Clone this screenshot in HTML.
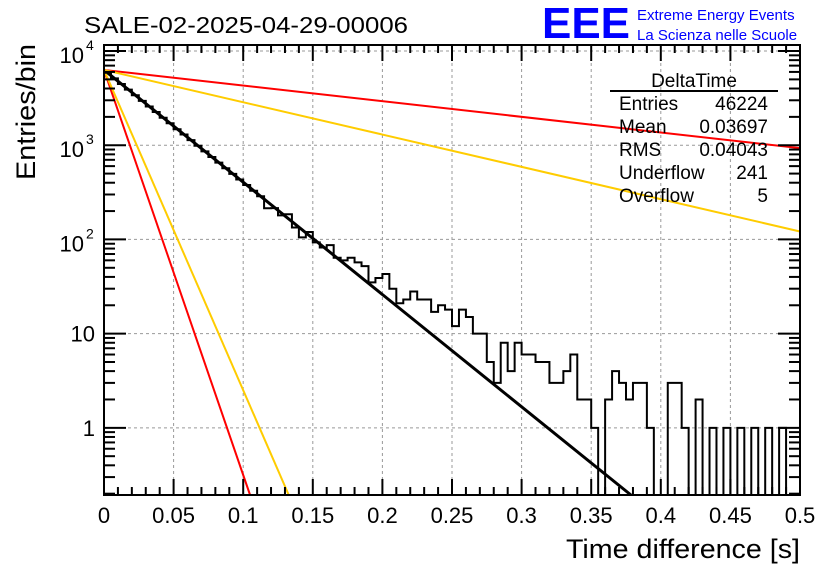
<!DOCTYPE html>
<html><head><meta charset="utf-8">
<style>
html,body{margin:0;padding:0;background:#fff;}
svg{display:block;font-family:"Liberation Sans",sans-serif;}
</style></head>
<body>
<svg id="chart" width="836" height="572" viewBox="0 0 836 572" xmlns="http://www.w3.org/2000/svg">
<rect width="836" height="572" fill="#fff"/>
<text x="84" y="33" font-size="23" fill="#000" textLength="324" lengthAdjust="spacingAndGlyphs">SALE-02-2025-04-29-00006</text>
<g>
<text x="542" y="38" font-size="44" fill="#0000ff" font-weight="bold" textLength="88" lengthAdjust="spacingAndGlyphs">EEE</text>
<text x="637" y="20" font-size="15" fill="#0000ff">Extreme Energy Events</text>
<text x="637" y="40" font-size="15" fill="#0000ff">La Scienza nelle Scuole</text>
</g>
<g id="grid"></g>
<g id="curves"></g>
<g id="hist"></g>
<g id="axes"></g>
<g font-size="19" fill="#000">
<text x="694" y="87" text-anchor="middle">DeltaTime</text>
<line x1="610" y1="91" x2="778" y2="91" stroke="#000" stroke-width="2"/>
<text x="619" y="110">Entries</text><text x="768" y="110" text-anchor="end">46224</text>
<text x="619" y="133">Mean</text><text x="768" y="133" text-anchor="end">0.03697</text>
<text x="619" y="156">RMS</text><text x="768" y="156" text-anchor="end">0.04043</text>
<text x="619" y="179">Underflow</text><text x="768" y="179" text-anchor="end">241</text>
<text x="619" y="202">Overflow</text><text x="768" y="202" text-anchor="end">5</text>
</g>
<text transform="translate(35,180) rotate(-90)" font-size="27" text-anchor="start" textLength="136" lengthAdjust="spacingAndGlyphs">Entries/bin</text>
<text x="800" y="558" font-size="27" text-anchor="end" textLength="234" lengthAdjust="spacingAndGlyphs">Time difference [s]</text>
</svg>
<script>
const binWidth = 0.005;
const counts = [5880,5125,4470,3895,3395,2960,2580,2250,1960,1710,1480,1300,1133,987,861,750,654,570,497,433,378,329,287,214,215,180,185,134,105,120,93,82,87,64,60,64,57,52,35,39,43,30,21,23,28,23,23,17,20,18,12,18,15,10,10,5,3,8,4,8,6,6,5,5,3,3,4,6,2,2,1,0,2,4,3,2,3,3,1,0,0,3,3,1,0,2,0,1,0,1,0,1,0,1,0,1,0,1,0,0];
const curveAmp = [6300,6300,6300,6300,6300];
const curveSlope = [-11.92,-1.66,-3.43,-43.0,-34.0]; // log10 units per second
const curveColor = ["#000000","#ff0000","#ffcc00","#ff0000","#ffcc00"];
const curveName = ["fit-curve","red-upper-curve","orange-upper-curve","red-lower-curve","orange-lower-curve"];
const xTicks = [0,0.05,0.1,0.15,0.2,0.25,0.3,0.35,0.4,0.45,0.5];
const xTickLabels = ["0","0.05","0.1","0.15","0.2","0.25","0.3","0.35","0.4","0.45","0.5"];
const yDecades = [0,1,2,3,4];
const yTickLabels = ["1","10","","",""];

const L=104,R=800,T=45,B=495;
const xMin=0,xMax=0.5,logMin=-0.713,logMax=4.064;
function X(v){return L+(v-xMin)/(xMax-xMin)*(R-L);}
function Yl(lg){return B-(lg-logMin)/(logMax-logMin)*(B-T);}
function Y(v){return v<=0?B:Math.max(T,Math.min(B,Yl(Math.log10(v))));}
const NS="http://www.w3.org/2000/svg";
function mk(tag,attrs,parent){const e=document.createElementNS(NS,tag);for(const k in attrs)e.setAttribute(k,attrs[k]);parent.appendChild(e);return e;}

const grid=document.getElementById('grid');
xTicks.forEach((t,i)=>{if(i>0&&i<xTicks.length-1){
 const g=mk('line',{x1:X(t),x2:X(t),y1:T,y2:B,stroke:'#999','stroke-dasharray':'3,3','stroke-width':1},grid);
 
 
}});
yDecades.forEach(d=>{const y=Yl(d);
 const g=mk('line',{x1:L,x2:R,y1:y,y2:y,stroke:'#999','stroke-dasharray':'3,3','stroke-width':1},grid);
 
 
});

const cg=document.getElementById('curves');
curveAmp.forEach((a,i)=>{
 const lg0=Math.log10(a);
 let x1=xMax; const lgEnd=lg0+curveSlope[i]*xMax;
 if(lgEnd<logMin){x1=(logMin-lg0)/curveSlope[i];}
 const p=mk('line',{x1:X(0),y1:Yl(lg0),x2:X(x1),y2:Yl(lg0+curveSlope[i]*x1),stroke:curveColor[i],'stroke-width':i==0?3:2},cg);
 
 
});

const hg=document.getElementById('hist');
let d='M'+X(0)+','+B;
counts.forEach((c,i)=>{const y=Y(c);d+=' L'+X(i*binWidth)+','+y+' L'+X((i+1)*binWidth)+','+y;});
d+=' L'+X(counts.length*binWidth)+','+B;
const hp=mk('path',{d:d,fill:'none',stroke:'#000','stroke-width':2},hg);



const ax=document.getElementById('axes');
const fr=mk('rect',{x:L,y:T,width:R-L,height:B-T,fill:'none',stroke:'#000','stroke-width':2},ax);


for(let k=0;k<=50;k++){const v=k*0.01;const major=k%5==0;const len=major?16:8;
 mk('line',{x1:X(v),x2:X(v),y1:B,y2:B-len,stroke:'#000','stroke-width':2},ax);
 mk('line',{x1:X(v),x2:X(v),y1:T,y2:T+len,stroke:'#000','stroke-width':2},ax);
}
xTicks.forEach((t,i)=>{const tx=mk('text',{x:X(t),y:523,'font-size':22,'text-anchor':'middle'},ax);tx.textContent=xTickLabels[i];
 
 
});
for(let d0=-1;d0<=4;d0++){for(let m=1;m<=9;m++){const lg=d0+Math.log10(m);if(lg<logMin||lg>logMax)continue;const len=m==1?22:11;const y=Yl(lg);
 mk('line',{x1:L,x2:L+len,y1:y,y2:y,stroke:'#000','stroke-width':2},ax);
 mk('line',{x1:R,x2:R-len,y1:y,y2:y,stroke:'#000','stroke-width':2},ax);
}}
yDecades.forEach((d0,i)=>{const y=Yl(d0);
 if(yTickLabels[i]){const t=mk('text',{x:95,y:y+8,'font-size':22,'text-anchor':'end'},ax);t.textContent=yTickLabels[i];
  
  
 } else {const t=mk('text',{x:84,y:y+12,'font-size':22,'text-anchor':'end'},ax);t.textContent='10';
  
  
  const s=mk('text',{x:86,y:y-1,'font-size':14,'text-anchor':'start'},ax);s.textContent=String(d0);
  
  
 }
});
</script>
</body></html>
